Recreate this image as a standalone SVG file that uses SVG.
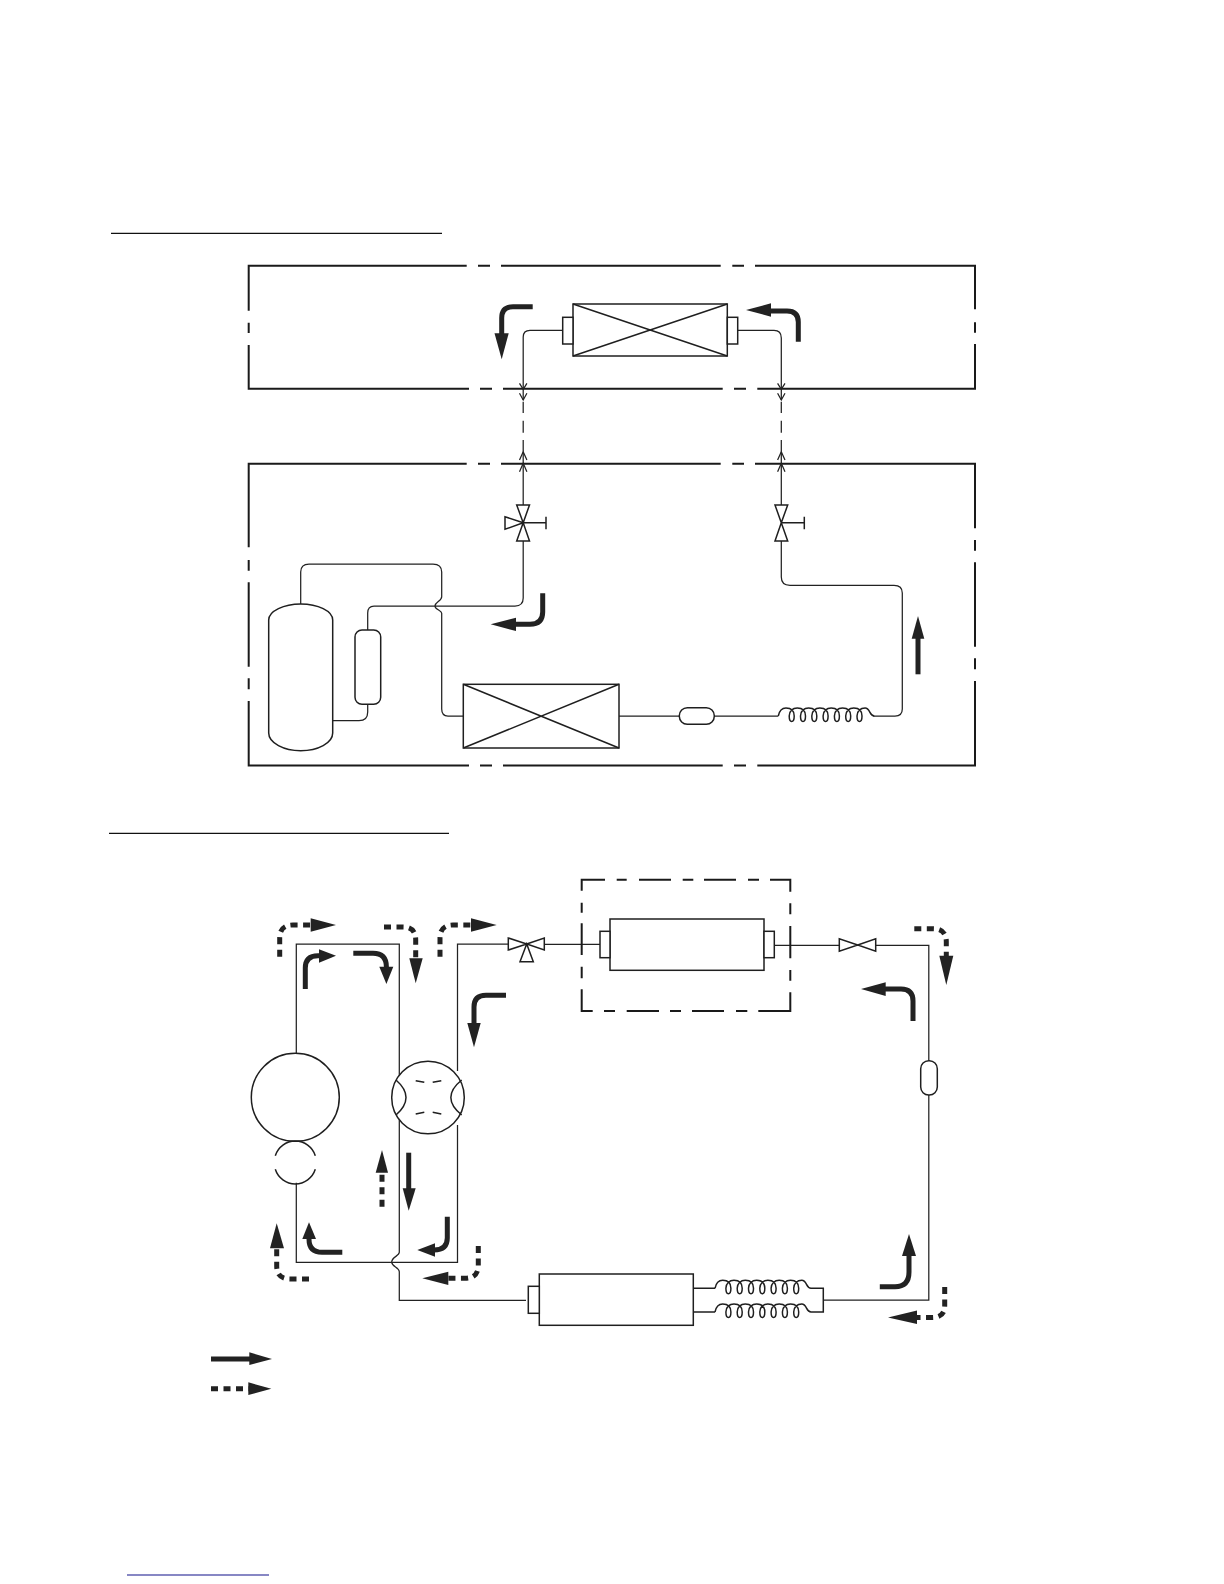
<svg xmlns="http://www.w3.org/2000/svg" width="1224" height="1584" viewBox="0 0 1224 1584">
<style>
.b{fill:none;stroke:#1a1a1a;stroke-width:2}
.t{fill:none;stroke:#222;stroke-width:1.25}
.m{fill:none;stroke:#1f1f1f;stroke-width:1.5}
.s{fill:#fff;stroke:#1f1f1f;stroke-width:1.5}
.f{fill:none;stroke:#222;stroke-width:5}
.d{fill:none;stroke:#222;stroke-width:5;stroke-dasharray:7 5.5}
.h{fill:#222;stroke:none}
</style>
<defs>
<path id="coil" class="m" d="M0 0C1 -5 4 -8 7.700 -8c6.700 0 8.200 4 8.200 8c0 3.500 -1 5.500 -2.500 5.500c-1.500 0 -2.500 -2 -2.500 -5.500c0 -5 3.500 -8 8.100 -8c6.700 0 8.200 4 8.200 8c0 3.500 -1 5.500 -2.500 5.500c-1.500 0 -2.500 -2 -2.500 -5.500c0 -5 3.500 -8 8.100 -8c6.700 0 8.200 4 8.200 8c0 3.500 -1 5.500 -2.500 5.500c-1.500 0 -2.500 -2 -2.500 -5.500c0 -5 3.500 -8 8.100 -8c6.700 0 8.200 4 8.200 8c0 3.500 -1 5.500 -2.500 5.500c-1.500 0 -2.500 -2 -2.500 -5.500c0 -5 3.500 -8 8.100 -8c6.700 0 8.200 4 8.200 8c0 3.500 -1 5.500 -2.500 5.500c-1.500 0 -2.500 -2 -2.500 -5.500c0 -5 3.500 -8 8.100 -8c6.700 0 8.200 4 8.200 8c0 3.500 -1 5.500 -2.500 5.500c-1.500 0 -2.500 -2 -2.500 -5.500c0 -5 3.500 -8 8.100 -8c6.700 0 8.200 4 8.200 8c0 3.500 -1 5.500 -2.500 5.500c-1.500 0 -2.500 -2 -2.500 -5.500c0 -5 3.500 -8 8.100 -8C92 -8 91 0 96 0"/>
</defs>
<rect width="1224" height="1584" fill="#fff"/>
<g id="header-lines">
<line x1="111" y1="233.300" x2="442" y2="233.300" stroke="#111" stroke-width="1.3"/>
<line x1="109" y1="833.300" x2="449" y2="833.300" stroke="#111" stroke-width="1.3"/>
<line x1="127" y1="1575" x2="269" y2="1575" stroke="#10108a" stroke-width="1.2"/>
</g>
<g id="indoor-boundary">
<path class="b" d="M248.700 310.700V265.700H466.700M478 265.700H490M501 265.700H720.700M732.300 265.700H744M755 265.700H975V309.300M975 322.300V332.700M975 344V388.700H757.300M746 388.700H734M722.700 388.700H503M492 388.700H480M469 388.700H248.700V345M248.700 333V322.700"/>
</g>
<g id="outdoor-boundary">
<path class="b" d="M248.700 547.300V463.700H466.700M478 463.700H490M501 463.700H720.700M732.300 463.700H744M755 463.700H975V528.300M975 540V550.700M975 562.300V646.700M975 658.300V669.300M975 681V765.500H757.300M746 765.500H734M722.700 765.500H503M492 765.500H480M469 765.500H248.700V701M248.700 689.300V678.300M248.700 666.700V582.300M248.700 570.700V560"/>
</g>
<g id="connectors">
<path class="t" d="M563 330.300H530Q523.200 330.300 523.200 337V400"/>
<path class="t" d="M737.700 330.300H774Q781.300 330.300 781.300 338V400"/>
<path class="t" d="M523.200 401.700V413M523.200 420.700V432.700M523.200 440V451.700M781.300 401.700V413M781.300 420.700V432.700M781.300 440V451.700"/>
<path class="t" d="M523.200 452V505M781.300 452V505"/>
<path class="t" d="M519.500 383.300L523.200 389.300L526.900 383.300M519.500 393.300L523.200 400L526.900 393.300M777.600 383.300L781.300 389.300L785 383.300M777.600 393.300L781.300 400L785 393.300M519.500 460L523.200 451.700L526.900 460M519.500 471.700L523.200 463.300L526.900 471.700M777.600 460L781.300 451.700L785 460M777.600 471.700L781.300 463.300L785 471.700"/>
<path class="t" d="M523.200 541V598Q523.200 606 515 606H374Q367.700 606 367.700 613V630"/>
<path class="t" d="M781.300 541V577Q781.300 585.300 790 585.300H894Q902.300 585.300 902.300 593V709Q902.300 716 895 716H873.300"/>
<path class="t" d="M714.300 716H778.300M619 716H679.300"/>
<path class="t" d="M463.300 716H448Q441.700 716 441.700 709V613.300C441.700 610 435 610 435 606C435 602 441.700 601 441.700 596.700V572Q441.700 564 433 564H309Q300.700 564 300.700 572V604"/>
<path class="t" d="M332.700 720.700H359Q367.700 720.700 367.700 712V704"/>
<path class="t" d="M296.300 1053V944H399.300V1252.300C399.300 1256 391.700 1257 391.700 1262C391.700 1267 399.300 1267 399.300 1272V1300.300H526"/>
<path class="t" d="M457.500 1071V944H508.300M544.300 944.300H600M774.300 945.300H839.300M875.700 945.300H928.800V1060.700M928.800 1095V1300H823.300"/>
<path class="t" d="M296.300 1182.700V1262.300H457.500V1125"/>
</g>
<g id="indoor-coil"><rect class="s" x="573" y="304" width="154.300" height="52"/><path class="m" d="M573 304L727.300 356M573 356L727.300 304"/><rect class="s" x="562.700" y="317.300" width="10.300" height="26.700"/><rect class="s" x="727.300" y="317.300" width="10.400" height="26.700"/></g>
<g id="outdoor-valve-a"><path class="s" d="M523.200 522.700L516.700 505H529.500ZM523.200 522.700L516.700 541H529.500ZM523.200 522.700L505 516.700V529.300Z"/><path class="m" d="M523.200 522.700H546M546 516.700V529.300"/></g>
<g id="outdoor-valve-b"><path class="s" d="M781.300 522.700L775 505H787.700ZM781.300 522.700L775 541H787.700Z"/><path class="m" d="M781.300 522.700H804.300M804.300 516.700V529.300"/></g>
<g id="compressor"><path class="s" d="M268.700 620C268.700 611 284 604 300.700 604C318 604 332.700 611 332.700 620V733C332.700 743 318 750.700 300.700 750.700C284 750.700 268.700 743 268.700 733Z"/></g>
<g id="accumulator"><rect class="s" x="355" y="630" width="25.700" height="74.300" rx="7"/></g>
<g id="outdoor-coil"><rect class="s" x="463.300" y="684.300" width="155.700" height="63.700"/><path class="m" d="M463.300 684.300L619 748M463.300 748L619 684.300"/></g>
<g id="receiver"><rect class="s" x="679.300" y="707.700" width="35" height="16.600" rx="8"/></g>
<g id="capillary"><use href="#coil" x="778.300" y="716"/></g>
<g id="cycle-compressor"><circle class="s" cx="295.300" cy="1097.300" r="44"/><path class="m" d="M275.300 1155.700A21 21 0 0 1 315.300 1155.700M275.300 1169.300A21 21 0 0 0 315.300 1169.300"/></g>
<g id="reversing-valve"><circle class="s" cx="428" cy="1097.500" r="36.300"/><path class="m" d="M396 1080Q416 1097.500 396 1115M461.700 1080Q440 1097.500 461.700 1115M415.700 1080.700L424.300 1082.300M432.700 1082.300L441.300 1080.700M415.700 1114L424.300 1112.300M432.700 1112.300L441.300 1114"/></g>
<g id="cycle-valve-a"><path class="s" d="M526.700 944L508.300 938V950ZM526.700 944L544.300 938V950ZM526.700 944L520 961.700H533.300Z"/></g>
<g id="indoor-box"><path class="b" d="M581.700 890.700V879.700H605M616.700 879.700H626.700M639 879.700H671M682.700 879.700H693.300M704 879.700H736M748 879.700H759M770 879.700H790.300V891.700M790.300 903.300V914.300M790.300 926V958.300M790.300 970V980.700M790.300 992.300V1011H758.300M747.300 1011H736M724 1011H692M681 1011H670M659 1011H626.700M615 1011H604M592.700 1011H581.700V989.300M581.700 978.300V966.700M581.700 955V923.300M581.700 912.700V902.700"/></g>
<g id="cycle-indoor-coil"><rect class="s" x="610" y="919" width="154" height="51.300"/><rect class="s" x="600" y="931.300" width="10" height="26.400"/><rect class="s" x="764" y="931.300" width="10.300" height="26.400"/></g>
<g id="cycle-valve-b"><path class="s" d="M857.700 945L839.300 938.700V951.300ZM857.700 945L875.700 938.700V951.300Z"/></g>
<g id="cycle-receiver"><rect class="s" x="920.700" y="1060.700" width="16.600" height="34.300" rx="8"/></g>
<g id="cycle-outdoor-coil"><rect class="s" x="539.300" y="1274" width="154" height="51.300"/><rect class="s" x="528.300" y="1286.300" width="11" height="27"/></g>
<g id="cycle-capillaries"><path class="m" d="M693.300 1288.300H715M693.300 1312H715M811 1288.300H823.300V1312H811"/><use href="#coil" x="715" y="1288.300"/><use href="#coil" x="715" y="1312"/></g>
<g id="flow-arrows">
<path class="f" d="M532.700 306.700H513Q501.700 306.700 501.700 318V334"/><path class="h" d="M494.500 333.300H508.700L501.700 359.300Z"/>
<path class="f" d="M798.300 341.700V322Q798.300 311 787 311H770"/><path class="h" d="M771 303.300V316.700L746 310Z"/>
<path class="f" d="M542.700 593.300V612Q542.700 624.300 530 624.300H515"/><path class="h" d="M516 617.800V631L490.700 624.300Z"/>
<path class="f" d="M918 674.300V638"/><path class="h" d="M911.700 638.700H924.300L918 616Z"/>
<path class="f" d="M305.300 989V968Q305.300 955.700 318 955.700H320"/><path class="h" d="M319 949.300V962.700L336 955.700Z"/>
<path class="f" d="M353.300 953.300H373Q386.400 953.300 386.400 967"/><path class="h" d="M379.300 966.700H393.300L386.400 984Z"/>
<path class="f" d="M506 995.300H486Q474 995.300 474 1007V1024"/><path class="h" d="M467.300 1023H480.700L474 1047.300Z"/>
<path class="f" d="M913 1021V1001Q913 989 901 989H885"/><path class="h" d="M885.700 982.300V996L861 989Z"/>
<path class="f" d="M408.700 1152.700V1189"/><path class="h" d="M402.700 1188.300H415.700L408.700 1210.700Z"/>
<path class="f" d="M447.300 1216.700V1238Q447.300 1250 434 1250"/><path class="h" d="M435 1243.300V1256.700L417.300 1250Z"/>
<path class="f" d="M342.300 1252.300H322Q309 1252.300 309 1239"/><path class="h" d="M302.300 1239H316L309 1222.300Z"/>
<path class="f" d="M879.800 1286.700H895Q909 1286.700 909 1272V1255"/><path class="h" d="M902 1256H916L909 1234Z"/>
<path class="d" d="M279.700 956.700V938Q279.700 925 293 925H311"/><path class="h" d="M310.700 918.300V931.700L336 925Z"/>
<path class="d" d="M384 927H403Q415.700 927 415.700 940V959"/><path class="h" d="M409.300 958.300H422.700L415.700 983.300Z"/>
<path class="d" d="M440 956.700V938Q440 925 453 925H472"/><path class="h" d="M471 918.300V931.700L496.700 925Z"/>
<path class="d" d="M914.300 928.700H933Q946.300 928.700 946.300 942V956"/><path class="h" d="M939.300 955.700H953.300L946.300 985Z"/>
<path class="d" d="M382 1206.700V1172"/><path class="h" d="M375.700 1172.700H388L382 1150Z"/>
<path class="d" d="M309 1279H290Q276.700 1279 276.700 1266V1248"/><path class="h" d="M270 1248.300H284L276.700 1223.300Z"/>
<path class="d" d="M478.300 1246V1265Q478.300 1278.300 465 1278.300H448"/><path class="h" d="M448.300 1271.700V1285L422.300 1278.300Z"/>
<path class="d" d="M944.700 1287V1306Q944.700 1317.500 932 1317.500H916"/><path class="h" d="M917 1310.500V1324L888 1317.500Z"/>
<path class="f" d="M211 1359H250"/><path class="h" d="M249.300 1352.300V1365L272 1359Z"/>
<path class="d" d="M211 1388.700H249"/><path class="h" d="M248.300 1382.300V1395L271.300 1388.700Z"/>
</g>
</svg>
